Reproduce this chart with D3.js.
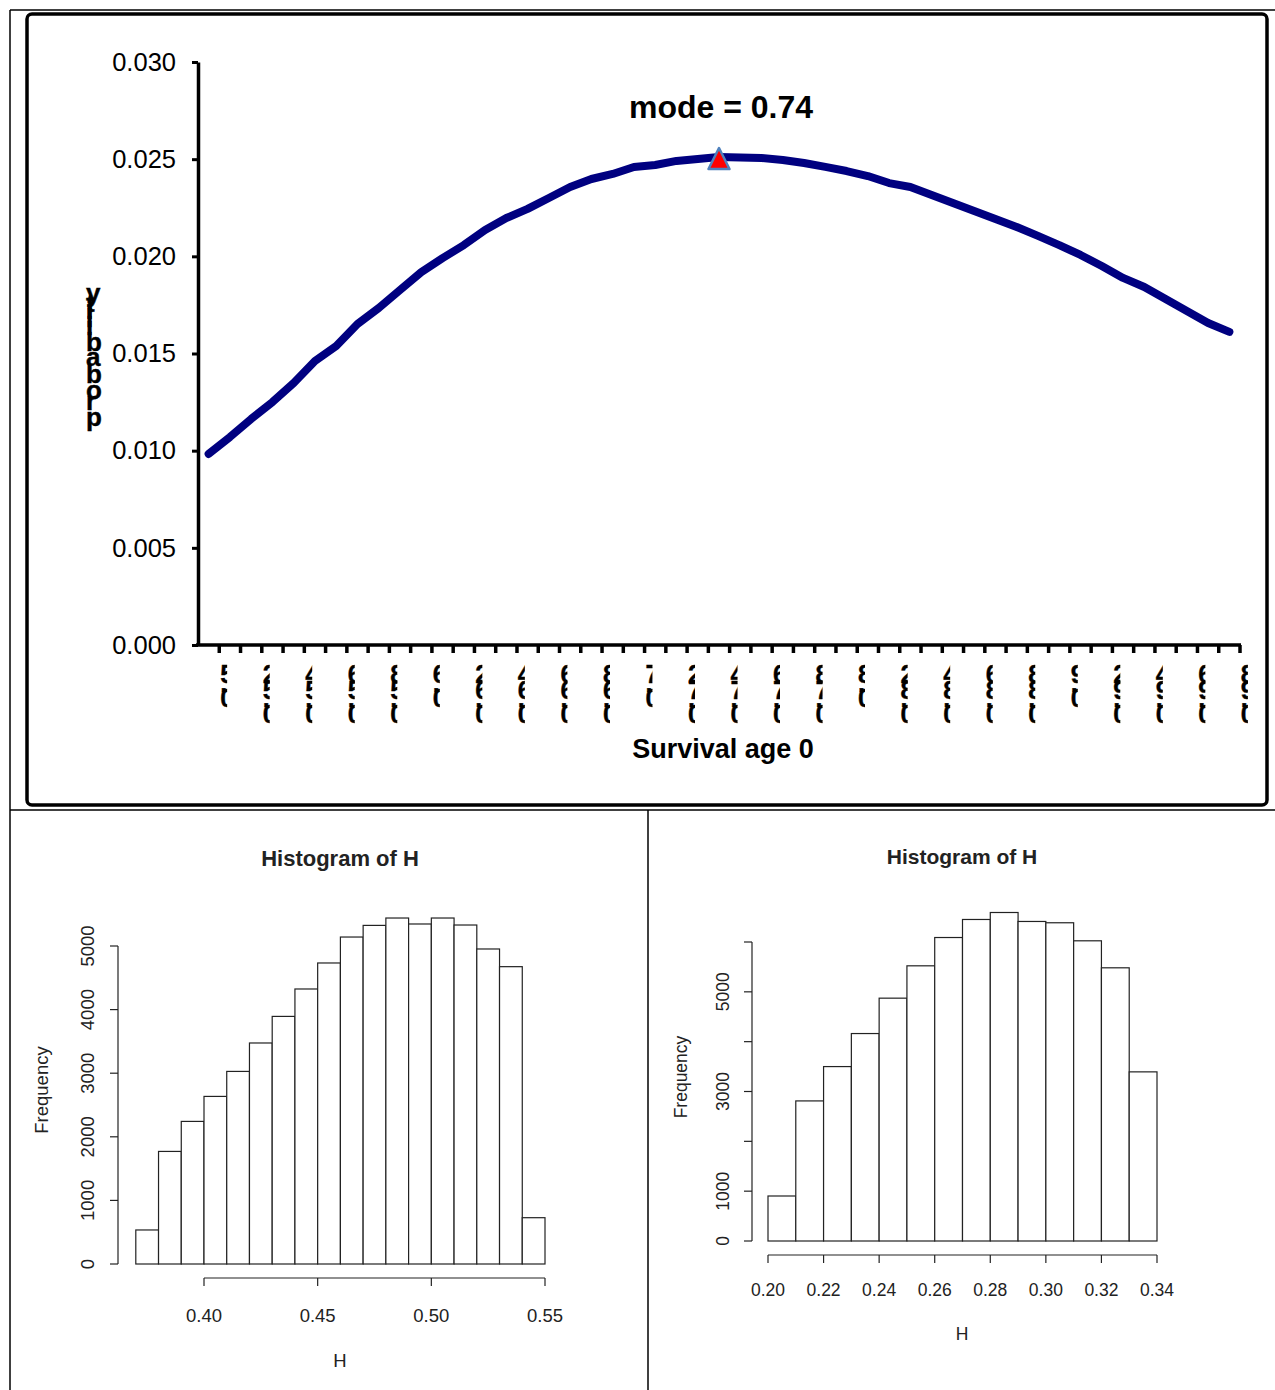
<!DOCTYPE html>
<html>
<head>
<meta charset="utf-8">
<script src="https://cdn.jsdelivr.net/npm/d3@7"></script>
<style>
  html, body { margin: 0; padding: 0; background: #fff; }
  svg { display: block; }
  text { font-family: "Liberation Sans", Arial, sans-serif; }
</style>
</head>
<body>
<svg id="fig" width="1275" height="1390"></svg>
<script>
// ---- Survival probability curve ----
const ages = [0.50, 0.51, 0.52, 0.53, 0.54, 0.55, 0.56, 0.57, 0.58, 0.59,
              0.60, 0.61, 0.62, 0.63, 0.64, 0.65, 0.66, 0.67, 0.68, 0.69,
              0.70, 0.71, 0.72, 0.73, 0.74, 0.75, 0.76, 0.77, 0.78, 0.79,
              0.80, 0.81, 0.82, 0.83, 0.84, 0.85, 0.86, 0.87, 0.88, 0.89,
              0.90, 0.91, 0.92, 0.93, 0.94, 0.95, 0.96, 0.97, 0.98];
const probability = [0.00983, 0.01070, 0.01163, 0.01250, 0.01348, 0.01461, 0.01539, 0.01652, 0.01734, 0.01827,
                     0.01919, 0.01991, 0.02058, 0.02136, 0.02197, 0.02244, 0.02300, 0.02357, 0.02398, 0.02424,
                     0.02460, 0.02470, 0.02491, 0.02501, 0.02511, 0.02509, 0.02506, 0.02496, 0.02480, 0.02460,
                     0.02439, 0.02413, 0.02377, 0.02357, 0.02316, 0.02274, 0.02233, 0.02192, 0.02151, 0.02105,
                     0.02058, 0.02007, 0.01950, 0.01889, 0.01842, 0.01780, 0.01719, 0.01657, 0.01611];
const probTicks = [0.000, 0.005, 0.010, 0.015, 0.020, 0.025, 0.030];
const modeAge = 0.74;
const curveTitleY = "probability";
const curveTitleX = "Survival age 0";

// ---- Histogram of H (left) ----
const breaksA = [0.37, 0.38, 0.39, 0.40, 0.41, 0.42, 0.43, 0.44, 0.45, 0.46,
                 0.47, 0.48, 0.49, 0.50, 0.51, 0.52, 0.53, 0.54, 0.55];
const countsA = [535, 1770, 2242, 2635, 3028, 3475, 3893, 4324, 4733,
                 5141, 5324, 5440, 5346, 5440, 5330, 4953, 4675, 728];
const xTicksA = [0.40, 0.45, 0.50, 0.55];
const yTicksA = [0, 1000, 2000, 3000, 4000, 5000];

// ---- Histogram of H (right) ----
const breaksB = [0.20, 0.21, 0.22, 0.23, 0.24, 0.25, 0.26, 0.27,
                 0.28, 0.29, 0.30, 0.31, 0.32, 0.33, 0.34];
const countsB = [903, 2811, 3500, 4163, 4873, 5522, 6090,
                 6452, 6592, 6412, 6386, 6024, 5482, 3394];
const xTicksB = [0.20, 0.22, 0.24, 0.26, 0.28, 0.30, 0.32, 0.34];
const yTicksB = [0, 1000, 2000, 3000, 4000, 5000, 6000];
const yLabelsB = [0, 1000, 3000, 5000];

const histTitle = "Histogram of H";

const svg = d3.select("#fig");

// ---------- page frame ----------
const frame = svg.append("g").attr("stroke", "#000").attr("fill", "none");
frame.append("line").attr("x1", 10).attr("y1", 10).attr("x2", 1275).attr("y2", 10).attr("stroke-width", 1.5);
frame.append("line").attr("x1", 10).attr("y1", 10).attr("x2", 10).attr("y2", 1390).attr("stroke-width", 1.5);
frame.append("line").attr("x1", 10).attr("y1", 810).attr("x2", 1275).attr("y2", 810).attr("stroke-width", 1.5);
frame.append("line").attr("x1", 648).attr("y1", 810).attr("x2", 648).attr("y2", 1390).attr("stroke-width", 1.5);
frame.append("rect").attr("x", 27).attr("y", 14).attr("width", 1240).attr("height", 791)
  .attr("rx", 5).attr("stroke-width", 3.5);

// ---------- curve chart ----------
const curveG = svg.append("g");
const x = d3.scaleBand().domain(ages).range([198, 1240]).paddingInner(0).paddingOuter(0);
const xc = d => x(d) + x.bandwidth() / 2;
const y = d3.scaleLinear().domain([0, 0.03]).range([645, 62]);

// y axis
const yAxis = curveG.append("g").attr("transform", "translate(198,0)")
  .call(d3.axisLeft(y).tickValues(probTicks).tickFormat(d3.format(".3f")).tickSize(6).tickSizeOuter(0).tickPadding(16));
yAxis.select(".domain").attr("stroke", "#000").attr("stroke-width", 3.5);
yAxis.selectAll(".tick line").attr("stroke", "#000").attr("stroke-width", 3);
yAxis.selectAll(".tick text").attr("font-size", 25.5).attr("fill", "#000")
  .attr("font-family", "'Liberation Sans', Arial, sans-serif");

// x axis baseline and boundary ticks
curveG.append("line").attr("x1", 196).attr("x2", 1241).attr("y1", y(0)).attr("y2", y(0))
  .attr("stroke", "#000").attr("stroke-width", 3.5);
const bounds = ages.slice(1).map(d => x(d)).concat([x.range()[1]]);
curveG.append("g").selectAll("line").data(bounds).join("line")
  .attr("x1", d => d).attr("x2", d => d)
  .attr("y1", y(0)).attr("y2", y(0) + 8)
  .attr("stroke", "#000").attr("stroke-width", 3.5);

// Width of a single bold glyph, used to stack upright characters upward
const probe = svg.append("text").attr("font-weight", "bold").attr("visibility", "hidden");
function advance(ch, fs) {
  probe.attr("font-size", fs).text(ch);
  return probe.node().getComputedTextLength();
}

// Upright characters stacked upward: first character at the bottom (baseline gyBottom),
// each following one raised by its own advance width plus spacing.
function stackUp(g, str, gx, gyBottom, fs, spacing) {
  const t = g.append("text").attr("font-size", fs).attr("font-weight", "bold").attr("fill", "#000")
    .attr("stroke", "#000").attr("stroke-width", 0.4);
  let yy = gyBottom;
  str.split("").forEach(ch => {
    t.append("tspan").attr("x", gx).attr("y", yy).text(ch);
    yy -= advance(ch, fs) + spacing;
  });
  return t;
}
function stackHeight(str, fs, spacing) {
  return str.split("").reduce((s, ch) => s + advance(ch, fs) + spacing, 0);
}

// category labels: every other age, squeezed into a narrow column below its tick pair
const defs = svg.append("defs");
const labelAges = ages.filter((d, i) => i % 2 === 0);
const labG = curveG.append("g");
const labFs = 25, labSp = 1.5, labTop = 666;
labelAges.forEach((d, j) => {
  const gx = xc(d) + 11.5;
  const id = "lab" + j;
  defs.append("clipPath").attr("id", id)
    .append("rect").attr("x", gx - 1).attr("y", 650).attr("width", 8).attr("height", 90);
  const str = String(d);
  const g = labG.append("g").attr("clip-path", `url(#${id})`);
  // top of the stack is aligned for every label
  stackUp(g, str, gx, labTop + stackHeight(str, labFs, labSp) + 2, labFs, labSp);
});

// axis titles
curveG.append("text").attr("x", 723).attr("y", 758).attr("text-anchor", "middle")
  .attr("font-size", 27).attr("font-weight", "bold").text(curveTitleX);
stackUp(curveG, curveTitleY, 86, 426, 26, 0.5);
probe.remove();

// curve
const line = d3.line().x((d, i) => xc(ages[i])).y(d => y(d));
curveG.append("path").datum(probability).attr("d", line)
  .attr("fill", "none").attr("stroke", "#000080").attr("stroke-width", 8)
  .attr("stroke-linejoin", "round").attr("stroke-linecap", "round");

// mode marker and label
const mi = ages.indexOf(modeAge);
const mx = xc(modeAge), my = y(probability[mi]);
const tri = d3.path();
tri.moveTo(mx, my - 9); tri.lineTo(mx + 10.5, my + 12); tri.lineTo(mx - 10.5, my + 12); tri.closePath();
curveG.append("path").attr("d", tri.toString())
  .attr("fill", "#ff0000").attr("stroke", "#4f81bd").attr("stroke-width", 2.5).attr("stroke-linejoin", "round");
curveG.append("text").attr("x", mx + 2).attr("y", 118).attr("text-anchor", "middle")
  .attr("font-size", 32).attr("font-weight", "bold").text("mode = " + modeAge);

// ---------- R-style histograms ----------
function histogram(opts) {
  const g = svg.append("g");
  const ink = "#222", lw = 1.2;
  const xs = d3.scaleLinear().domain(opts.xDomain).range(opts.xRange);
  const ys = d3.scaleLinear().domain(opts.yDomain).range(opts.yRange);

  // bars
  g.append("g").selectAll("rect").data(opts.counts).join("rect")
    .attr("x", (d, i) => xs(opts.breaks[i]))
    .attr("width", (d, i) => xs(opts.breaks[i + 1]) - xs(opts.breaks[i]))
    .attr("y", d => ys(d))
    .attr("height", d => ys(0) - ys(d))
    .attr("fill", "#fff").attr("stroke", ink).attr("stroke-width", lw);

  // x axis
  const xa = g.append("g");
  xa.append("line").attr("x1", xs(opts.xTicks[0])).attr("x2", xs(opts.xTicks[opts.xTicks.length - 1]))
    .attr("y1", opts.xAxisY).attr("y2", opts.xAxisY).attr("stroke", ink).attr("stroke-width", lw);
  xa.selectAll("line.t").data(opts.xTicks).join("line").attr("class", "t")
    .attr("x1", d => xs(d)).attr("x2", d => xs(d))
    .attr("y1", opts.xAxisY).attr("y2", opts.xAxisY + opts.tick)
    .attr("stroke", ink).attr("stroke-width", lw);
  xa.selectAll("text").data(opts.xTicks).join("text")
    .attr("x", d => xs(d)).attr("y", opts.xLabelY).attr("text-anchor", "middle")
    .attr("font-size", opts.fs).attr("fill", ink).text(d3.format(".2f"));

  // y axis
  const ya = g.append("g");
  ya.append("line").attr("x1", opts.yAxisX).attr("x2", opts.yAxisX)
    .attr("y1", ys(opts.yTicks[0])).attr("y2", ys(opts.yTicks[opts.yTicks.length - 1]))
    .attr("stroke", ink).attr("stroke-width", lw);
  ya.selectAll("line.t").data(opts.yTicks).join("line").attr("class", "t")
    .attr("x1", opts.yAxisX - opts.tick).attr("x2", opts.yAxisX)
    .attr("y1", d => ys(d)).attr("y2", d => ys(d))
    .attr("stroke", ink).attr("stroke-width", lw);
  ya.selectAll("text").data(opts.yLabels).join("text")
    .attr("transform", d => `translate(${opts.yLabelX},${ys(d)}) rotate(-90)`)
    .attr("text-anchor", "middle").attr("font-size", opts.fs).attr("fill", ink).text(d => d);

  // titles
  g.append("text").attr("x", opts.cx).attr("y", opts.titleY).attr("text-anchor", "middle")
    .attr("font-size", opts.titleFs).attr("font-weight", "bold").attr("fill", ink).text(histTitle);
  g.append("text").attr("x", opts.cx).attr("y", opts.hY).attr("text-anchor", "middle")
    .attr("font-size", opts.fs).attr("fill", ink).text("H");
  g.append("text").attr("transform", `translate(${opts.freqX},${opts.freqY}) rotate(-90)`)
    .attr("text-anchor", "middle").attr("font-size", opts.fs).attr("fill", ink).text("Frequency");
}

histogram({
  breaks: breaksA, counts: countsA, xTicks: xTicksA, yTicks: yTicksA, yLabels: yTicksA,
  xDomain: [0.40, 0.55], xRange: [204, 545], yDomain: [0, 5000], yRange: [1264, 946],
  xAxisY: 1278, xLabelY: 1322, yAxisX: 118, yLabelX: 94, tick: 8,
  cx: 340, titleY: 866, titleFs: 22, hY: 1367, freqX: 48, freqY: 1090, fs: 18.5
});

histogram({
  breaks: breaksB, counts: countsB, xTicks: xTicksB, yTicks: yTicksB, yLabels: yLabelsB,
  xDomain: [0.20, 0.34], xRange: [768, 1157], yDomain: [0, 6000], yRange: [1241, 942],
  xAxisY: 1255, xLabelY: 1296, yAxisX: 752, yLabelX: 729, tick: 8,
  cx: 962, titleY: 864, titleFs: 21, hY: 1340, freqX: 687, freqY: 1077, fs: 17.5
});
</script>
</body>
</html>
